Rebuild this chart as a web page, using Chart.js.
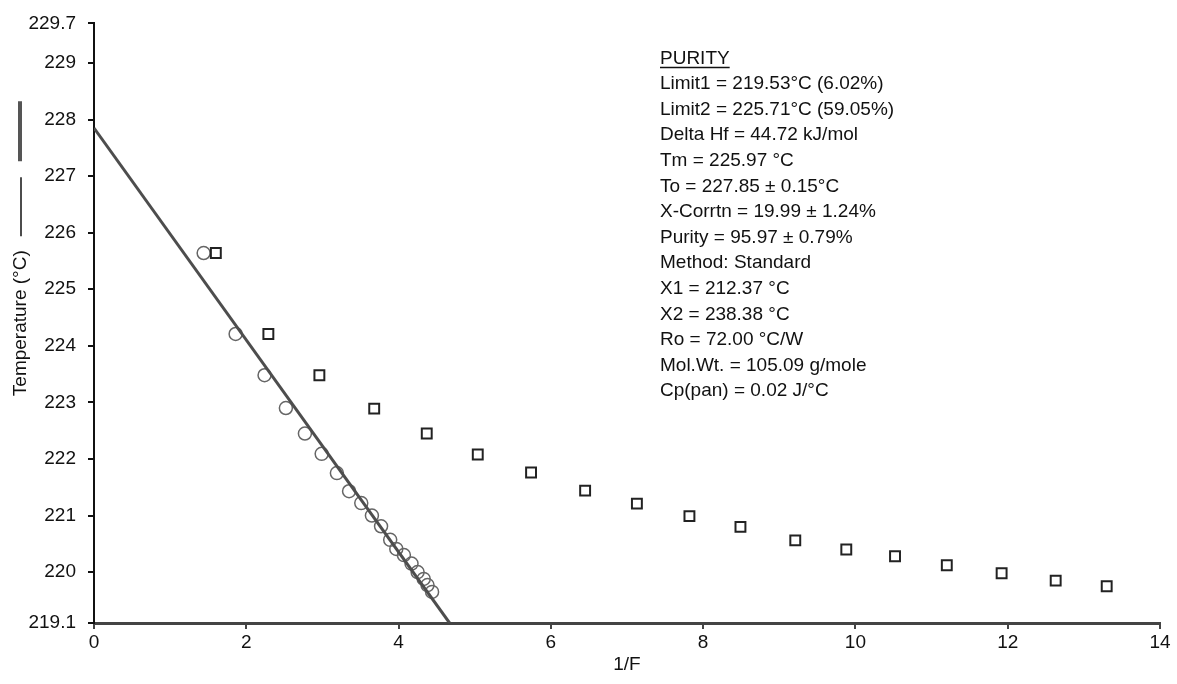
<!DOCTYPE html>
<html>
<head>
<meta charset="utf-8">
<script src="https://cdn.jsdelivr.net/npm/chart.js@4.4.1/dist/chart.umd.min.js"></script>
<style>
  html, body { margin: 0; padding: 0; background: #fff; }
  #wrap { width: 1177px; height: 684px; position: relative; }
</style>
</head>
<body>
<div id="wrap"><canvas id="c" width="1177" height="684"></canvas></div>
<script>
// ---------- data ----------
const circleX = [1.44, 1.86, 2.24, 2.52, 2.77, 2.99, 3.19, 3.35, 3.51, 3.65, 3.77, 3.89, 3.97, 4.07, 4.17, 4.25, 4.33, 4.38, 4.44];
const circleY = [225.64, 224.21, 223.48, 222.90, 222.45, 222.09, 221.75, 221.43, 221.22, 221.00, 220.81, 220.57, 220.41, 220.30, 220.15, 220.00, 219.88, 219.77, 219.65];

const squareX = [1.60, 2.29, 2.96, 3.68, 4.37, 5.04, 5.74, 6.45, 7.13, 7.82, 8.49, 9.21, 9.88, 10.52, 11.20, 11.92, 12.63, 13.30];
const squareY = [225.64, 224.21, 223.48, 222.89, 222.45, 222.08, 221.76, 221.44, 221.21, 220.99, 220.80, 220.56, 220.40, 220.28, 220.12, 219.98, 219.85, 219.75];

const fitX = [0, 4.67];
const fitY = [227.85, 219.10];

const yTickValues = [219.1, 220, 221, 222, 223, 224, 225, 226, 227, 228, 229, 229.7];
const xTickStep = 2;

const xTitle = "1/F";
const yTitle = "Temperature (°C)";

const purityLines = [
  "PURITY",
  "Limit1 = 219.53°C (6.02%)",
  "Limit2 = 225.71°C (59.05%)",
  "Delta Hf = 44.72 kJ/mol",
  "Tm = 225.97 °C",
  "To = 227.85 ± 0.15°C",
  "X-Corrtn = 19.99 ± 1.24%",
  "Purity = 95.97 ± 0.79%",
  "Method: Standard",
  "X1 = 212.37 °C",
  "X2 = 238.38 °C",
  "Ro = 72.00 °C/W",
  "Mol.Wt. = 105.09 g/mole",
  "Cp(pan) = 0.02 J/°C"
];

// ---------- helpers ----------
const zip = (xs, ys) => xs.map((x, i) => ({ x: x, y: ys[i] }));
const FONT = '"Liberation Sans", Arial, sans-serif';
const FSIZE = 19;

const textBlock = {
  id: 'textBlock',
  afterDraw(chart) {
    const ctx = chart.ctx;
    const area = chart.chartArea;
    ctx.save();
    ctx.font = FSIZE + 'px ' + FONT;
    ctx.fillStyle = '#111';
    ctx.textBaseline = 'middle';
    ctx.textAlign = 'left';
    const x0 = area.left + 566;
    const y0 = area.top + 35;
    const step = 25.6;
    purityLines.forEach((t, i) => ctx.fillText(t, x0, y0 + i * step));
    // underline first line
    const w = ctx.measureText(purityLines[0]).width;
    ctx.strokeStyle = '#111';
    ctx.lineWidth = 1.5;
    ctx.beginPath();
    ctx.moveTo(x0, y0 + 9);
    ctx.lineTo(x0 + w, y0 + 9);
    ctx.stroke();

    // legend strokes attached to the y title
    const cy = (area.top + area.bottom) / 2 - 3;
    const tw = ctx.measureText(yTitle).width;
    const top = cy - tw / 2;
    ctx.strokeStyle = '#111';
    ctx.lineWidth = 1.5;
    ctx.beginPath();
    ctx.moveTo(21, top - 11);
    ctx.lineTo(21, top - 70);
    ctx.stroke();
    ctx.strokeStyle = '#555';
    ctx.lineWidth = 4;
    ctx.beginPath();
    ctx.moveTo(20, top - 86);
    ctx.lineTo(20, top - 146);
    ctx.stroke();
    ctx.restore();
  }
};

new Chart(document.getElementById('c'), {
  type: 'scatter',
  data: {
    datasets: [
      {
        type: 'line',
        label: 'fit',
        data: zip(fitX, fitY),
        borderColor: '#4d4d4d',
        borderWidth: 3,
        pointRadius: 0,
        fill: false,
        tension: 0,
        order: 0
      },
      {
        label: 'corrected',
        data: zip(circleX, circleY),
        pointStyle: 'circle',
        pointRadius: 6.5,
        borderColor: '#666',
        borderWidth: 1.5,
        backgroundColor: 'rgba(0,0,0,0)',
        order: 2
      },
      {
        label: 'raw',
        data: zip(squareX, squareY),
        pointStyle: 'rect',
        pointRadius: 7,
        borderColor: '#222',
        borderWidth: 2,
        backgroundColor: 'rgba(0,0,0,0)',
        order: 1
      }
    ]
  },
  options: {
    responsive: false,
    animation: false,
    devicePixelRatio: 1,
    layout: { padding: { left: 0, top: 23, right: 17, bottom: 0 } },
    plugins: {
      legend: { display: false },
      tooltip: { enabled: false },
      title: { display: false }
    },
    scales: {
      x: {
        type: 'linear',
        min: 0,
        max: 14,
        afterFit(s) { s.height = 61; },
        ticks: {
          stepSize: xTickStep,
          color: '#111',
          font: { family: FONT, size: FSIZE },
          padding: 2,
          maxRotation: 0
        },
        grid: { drawOnChartArea: false, drawTicks: true, tickLength: 6, color: '#444', lineWidth: 2 },
        border: { display: true, color: '#444', width: 3 },
        title: {
          display: true,
          text: xTitle,
          color: '#111',
          font: { family: FONT, size: FSIZE },
          padding: { top: 0, bottom: 8 }
        }
      },
      y: {
        type: 'linear',
        min: 219.1,
        max: 229.7,
        afterFit(s) { s.width = 94; },
        afterBuildTicks(s) { s.ticks = yTickValues.map(v => ({ value: v })); },
        ticks: {
          color: '#111',
          font: { family: FONT, size: FSIZE },
          padding: 12,
          callback: (v) => String(v)
        },
        grid: { drawOnChartArea: false, drawTicks: true, tickLength: 6, color: '#111', lineWidth: 2 },
        border: { display: true, color: '#111', width: 2 },
        title: {
          display: true,
          text: yTitle,
          color: '#111',
          font: { family: FONT, size: FSIZE },
          padding: { top: 9, bottom: 0 }
        }
      }
    }
  },
  plugins: [textBlock]
});
</script>
</body>
</html>
